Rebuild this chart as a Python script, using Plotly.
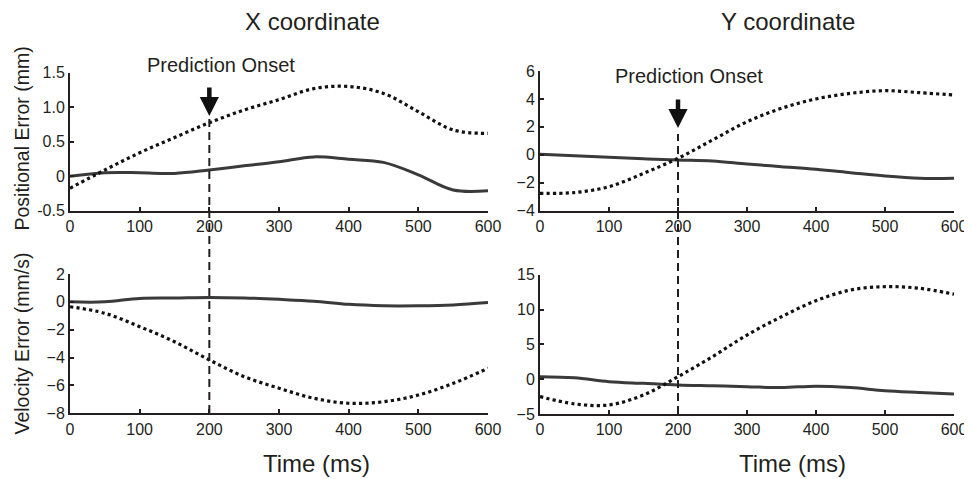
import plotly.graph_objects as go

# ---- data ----
time_ms = [0, 50, 100, 150, 200, 250, 300, 350, 400, 450, 500, 550, 600]

pos_x_solid = [0.0, 0.05, 0.05, 0.04, 0.09, 0.15, 0.21, 0.28, 0.245, 0.20, 0.02, -0.20, -0.21]
pos_x_dotted = [-0.175, 0.09, 0.34, 0.56, 0.775, 0.96, 1.11, 1.27, 1.30, 1.20, 0.935, 0.67, 0.62]

pos_y_solid = [0.04, -0.07, -0.18, -0.28, -0.37, -0.44, -0.66, -0.85, -1.04, -1.28, -1.52, -1.68, -1.68]
pos_y_dotted = [-2.76, -2.7, -2.28, -1.33, -0.25, 1.06, 2.37, 3.33, 4.0, 4.4, 4.59, 4.45, 4.28]

vel_x_solid = [0.0, 0.0, 0.25, 0.28, 0.32, 0.28, 0.18, 0.05, -0.18, -0.28, -0.28, -0.22, -0.05]
vel_x_dotted = [-0.35, -0.82, -1.78, -2.86, -4.17, -5.37, -6.2, -6.92, -7.28, -7.17, -6.69, -5.85, -4.77]

vel_y_solid = [0.36, 0.2, -0.36, -0.6, -0.83, -0.95, -1.07, -1.2, -1.0, -1.2, -1.65, -1.9, -2.13]
vel_y_dotted = [-2.5, -3.55, -3.7, -2.27, 0.36, 3.23, 6.34, 8.97, 11.27, 12.8, 13.28, 13.05, 12.2]

x_ticks = [0, 100, 200, 300, 400, 500, 600]
pos_x_ticks = [-0.5, 0, 0.5, 1.0, 1.5]
pos_x_ticktext = ["-0.5", "0", "0.5", "1.0", "1.5"]
pos_y_ticks = [-4, -2, 0, 2, 4, 6]
vel_x_ticks = [-8, -6, -4, -2, 0, 2]
vel_y_ticks = [-5, 0, 5, 10, 15]

onset_ms = 200

# ---- styling ----
OFF = 8  # page body margin
W, H = 972 - OFF, 479 - OFF
INK = "#231f20"
SOLID = "#3a3a3a"
FONT = "Liberation Sans, Arial, sans-serif"

def py(p):
    return (H - (p - OFF)) / H

def px(p):
    return (p - OFF) / W

fig = go.Figure()

panels = [
    ("x", "y", pos_x_solid, pos_x_dotted),
    ("x2", "y2", pos_y_solid, pos_y_dotted),
    ("x3", "y3", vel_x_solid, vel_x_dotted),
    ("x4", "y4", vel_y_solid, vel_y_dotted),
]
for xa, ya, s, d in panels:
    fig.add_trace(go.Scatter(x=time_ms, y=s, mode="lines", xaxis=xa, yaxis=ya,
                             line=dict(color=SOLID, width=3, shape="spline"),
                             showlegend=False, hoverinfo="skip"))
    fig.add_trace(go.Scatter(x=time_ms, y=d, mode="lines", xaxis=xa, yaxis=ya,
                             line=dict(color="#111111", width=3.2, dash="dot", shape="spline"),
                             showlegend=False, hoverinfo="skip"))

axis_common = dict(showline=True, linecolor=INK, linewidth=2, ticks="inside",
                   ticklen=4, tickwidth=1.5, tickcolor=INK, showgrid=False,
                   zeroline=False, automargin=False,
                   tickfont=dict(family=FONT, size=16, color=INK))

left_dom = [px(70), px(488)]
right_dom = [px(540), px(954)]

fig.update_layout(
    template="none",
    width=W, height=H,
    margin=dict(l=0, r=0, t=0, b=0, pad=0),
    paper_bgcolor="white", plot_bgcolor="white",
    xaxis=dict(domain=left_dom, range=[0, 600], tickvals=x_ticks, anchor="y", **axis_common),
    yaxis=dict(domain=[py(210.7), py(72.7)], range=[-0.5, 1.5], tickvals=pos_x_ticks,
               ticktext=pos_x_ticktext, anchor="x", **axis_common),
    xaxis2=dict(domain=right_dom, range=[0, 600], tickvals=x_ticks, anchor="y2", **axis_common),
    yaxis2=dict(domain=[py(210.7), py(71)], range=[-4, 6], tickvals=pos_y_ticks, anchor="x2", **axis_common),
    xaxis3=dict(domain=left_dom, range=[0, 600], tickvals=x_ticks, anchor="y3", **axis_common),
    yaxis3=dict(domain=[py(413.3), py(274)], range=[-8, 2], tickvals=vel_x_ticks, anchor="x3", **axis_common),
    xaxis4=dict(domain=right_dom, range=[0, 600], tickvals=x_ticks, anchor="y4", **axis_common),
    yaxis4=dict(domain=[py(414), py(274.7)], range=[-5, 15], tickvals=vel_y_ticks, anchor="x4", **axis_common),
)

# dashed onset lines
fig.add_shape(type="line", xref="x", yref="paper", x0=onset_ms, x1=onset_ms,
              y0=py(413), y1=py(119), line=dict(color=INK, width=2, dash="8px,5px"))
fig.add_shape(type="line", xref="x2", yref="paper", x0=onset_ms, x1=onset_ms,
              y0=py(414), y1=py(134), line=dict(color=INK, width=2, dash="8px,5px"))

def label(x, y, text, size, angle=0):
    return dict(x=px(x), y=py(y), xref="paper", yref="paper", text=text,
                xanchor="center", yanchor="middle", textangle=angle,
                showarrow=False, font=dict(family=FONT, size=size, color=INK))

ann = []
# arrows
ann.append(dict(x=onset_ms, y=py(116), xref="x", yref="paper", ax=0, ay=-30,
                showarrow=True, arrowhead=2, arrowwidth=4.5, arrowsize=0.85,
                arrowcolor="#111111", text=""))
ann.append(dict(x=onset_ms, y=py(128), xref="x2", yref="paper", ax=0, ay=-30,
                showarrow=True, arrowhead=2, arrowwidth=4.5, arrowsize=0.85,
                arrowcolor="#111111", text=""))
ann.append(label(221, 65, "Prediction Onset", 20))
ann.append(label(688.5, 76.5, "Prediction Onset", 20))
ann.append(label(312, 22, "X coordinate", 24))
ann.append(label(787.5, 22, "Y coordinate", 24))
ann.append(label(316, 463, "Time (ms)", 24))
ann.append(label(792, 463, "Time (ms)", 24))
ann.append(label(21, 138.5, "Positional Error (mm)", 19.5, -90))
ann.append(label(21, 343.5, "Velocity Error (mm/s)", 19.5, -90))
fig.update_layout(annotations=ann)

fig.write_html("out.html")
